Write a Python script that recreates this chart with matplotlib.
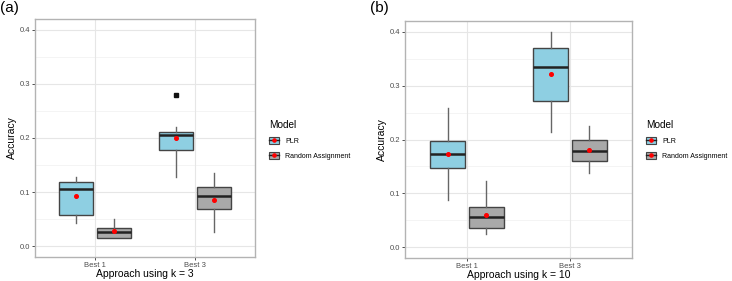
import matplotlib
matplotlib.use('Agg')
import matplotlib.pyplot as plt
from matplotlib.patches import Patch
from matplotlib.lines import Line2D

plt.rcParams['font.family'] = 'Liberation Sans'

approaches = ['Best 1', 'Best 3']
models = ['PLR', 'Random Assignment']
colors = {'PLR': '#8ecfe2', 'Random Assignment': '#a9a9a9'}

# per panel, per model, per approach: whislo, q1, median, q3, whishi, mean
# panel (a): k = 3
a_plr = [[0.042, 0.058, 0.105, 0.118, 0.127, 0.093],
         [0.127, 0.178, 0.206, 0.211, 0.220, 0.200]]
a_rand = [[0.016, 0.016, 0.026, 0.034, 0.050, 0.028],
          [0.026, 0.068, 0.093, 0.109, 0.135, 0.085]]
a_outliers_plr = [[], [0.280]]
# panel (b): k = 10
b_plr = [[0.0875, 0.148, 0.173, 0.197, 0.259, 0.173],
         [0.213, 0.272, 0.334, 0.370, 0.400, 0.322]]
b_rand = [[0.025, 0.036, 0.0555, 0.074, 0.123, 0.060],
          [0.137, 0.160, 0.179, 0.200, 0.225, 0.181]]

yticks = [0.0, 0.1, 0.2, 0.3, 0.4]

W, H = 732, 281
fig = plt.figure(figsize=(W / 100, H / 100), dpi=100)


def stats(rows, outliers=None):
    out = []
    for i, r in enumerate(rows):
        out.append(dict(whislo=r[0], q1=r[1], med=r[2], q3=r[3], whishi=r[4],
                        mean=r[5], fliers=(outliers[i] if outliers else [])))
    return out


def panel(rect, plr, rand, plr_out, xlabel, tag, legx):
    l, t, r, b = rect
    ax = fig.add_axes([l / W, 1 - b / H, (r - l) / W, (b - t) / H])
    ax.set_facecolor('white')
    for yy in [0.05, 0.15, 0.25, 0.35]:
        ax.axhline(yy, color='#f3f3f3', lw=0.6, zorder=0)
    for yy in yticks:
        ax.axhline(yy, color='#e6e6e6', lw=0.8, zorder=0)
    for xx in [1, 2]:
        ax.axvline(xx, color='#e6e6e6', lw=0.8, zorder=0)
    base = [1, 2]
    for data, off, m, outl in [(plr, -0.1875, 'PLR', plr_out),
                               (rand, 0.1875, 'Random Assignment', None)]:
        st = stats(data, outl)
        pos = [p + off for p in base]
        ax.bxp(st, positions=pos, widths=0.3375, patch_artist=True,
               showmeans=True, showcaps=False,
               boxprops=dict(facecolor=colors[m], edgecolor='#444444', lw=1.0),
               medianprops=dict(color='#222222', lw=1.8),
               whiskerprops=dict(color='#666666', lw=1.0),
               meanprops=dict(marker='o', markerfacecolor='red',
                              markeredgecolor='red', markersize=2.6),
               flierprops=dict(marker='s', markerfacecolor='#111111',
                               markeredgecolor='#111111', markersize=3))
    ax.set_xlim(0.4, 2.6)
    ax.set_ylim(-0.02, 0.42)
    ax.set_xticks(base)
    ax.set_xticklabels(approaches)
    ax.set_yticks(yticks)
    ax.set_yticklabels(['0.0', '0.1', '0.2', '0.3', '0.4'])
    ax.tick_params(labelsize=5.5, labelcolor='#4d4d4d', color='#333333',
                   length=2, width=0.6, pad=1.5)
    for s in ax.spines.values():
        s.set_color('#b3b3b3')
        s.set_linewidth(1.0)
    ax.set_xlabel(xlabel, fontsize=7.5, labelpad=0)
    ax.set_ylabel('Accuracy', fontsize=7.5, labelpad=2)
    fig.text((l - 35) / W, 1 - 1 / H, tag, fontsize=11, va='top', ha='left')

    handles = []
    for m in models:
        handles.append((Patch(facecolor=colors[m], edgecolor='#444444', lw=0.8),
                        Line2D([], [], color='#222222', lw=1.0, marker='o',
                               markersize=2.3, markerfacecolor='red',
                               markeredgecolor='red')))
    leg = ax.legend(handles, models, title='Model', loc='center left',
                    bbox_to_anchor=(legx / W, 1 - 140 / H),
                    bbox_transform=fig.transFigure, frameon=False,
                    fontsize=5.0, title_fontsize=7.2, handlelength=1.45,
                    handleheight=1.15, handletextpad=0.85, labelspacing=1.0,
                    borderpad=0, borderaxespad=0)
    leg._legend_box.align = 'left'
    return ax


panel((35, 19, 255, 257), a_plr, a_rand, a_outliers_plr,
      'Approach using k = 3', '(a)', 269)
panel((405, 21, 632, 258), b_plr, b_rand, None,
      'Approach using k = 10', '(b)', 646)

fig.savefig('out.png', dpi=100)
